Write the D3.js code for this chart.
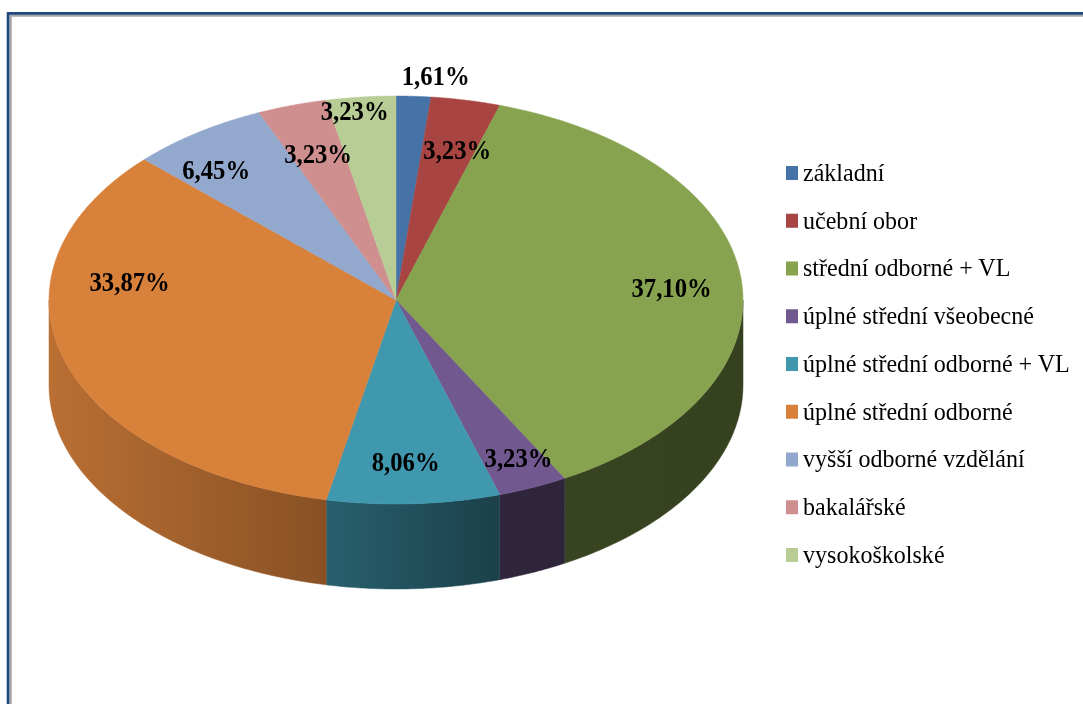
<!DOCTYPE html>
<html>
<head>
<meta charset="utf-8">
<script src="https://cdn.jsdelivr.net/npm/d3@7"></script>
<style>
  html, body { margin: 0; padding: 0; background: #fff; }
  svg { display: block; filter: blur(0.4px); }
  text { font-family: "Liberation Serif", serif; fill: #000; }
</style>
</head>
<body>
<svg id="graf"></svg>
<script>
// Nejvyšší dosažené vzdělání
const kategorie = ["základní", "učební obor", "střední odborné + VL", "úplné střední všeobecné",
    "úplné střední odborné + VL", "úplné střední odborné", "vyšší odborné vzdělání", "bakalářské", "vysokoškolské"];
const hodnoty = [1.61, 3.23, 37.10, 3.23, 8.06, 33.87, 6.45, 3.23, 3.23];
const popisky = ["1,61%", "3,23%", "37,10%", "3,23%", "8,06%", "33,87%", "6,45%", "3,23%", "3,23%"];

const barvy = ["#4572a7", "#a84543", "#87a34f", "#71588f", "#4098af", "#d8813b", "#92a8cd", "#cf8f8e", "#b8cc95"];
// posun popisku od jeho místa ve výseči (ručně posunuté popisky)
const posunPopisku = [[27, -78], [11, -7], [27, 2], [24, 23], [-3, 15], [-28, -62], [-37, -10], [-3, -6], [-16, -43]];

const width = 1083, height = 704;
const cx = 396, cy = 300, rx = 347, ry = 204, hloubka = 85;

const svg = d3.select("#graf").attr("width", width).attr("height", height);
const defs = svg.append("defs");

// rámeček
const ramecek = svg.append("g").attr("fill", "none");
ramecek.append("path").attr("d", `M10.5,${height} V15.5 H${width}`).attr("stroke", "#a6a6a6").attr("stroke-width", 2.5);
ramecek.append("path").attr("d", `M8,${height} V13.4 H${width}`).attr("stroke", "#1f497d").attr("stroke-width", 2.6);

const pie = d3.pie().value(d => d).sort(null);
const dily = pie(hodnoty);

const bod = (uhel, k = 1) => [cx + k * rx * Math.sin(uhel), cy - k * ry * Math.cos(uhel)];

// stín boční stěny podle vodorovné polohy
const stin = d3.scaleLinear().domain([cx - rx, 325, 500, cx + rx]).range([0.86, 0.63, 0.42, 0.4]);

function vyseC(d) {
    const p = d3.path();
    p.moveTo(cx, cy);
    const n = 60;
    for (let i = 0; i <= n; i++) {
        const [x, y] = bod(d.startAngle + (d.endAngle - d.startAngle) * i / n);
        p.lineTo(x, y);
    }
    p.closePath();
    return p.toString();
}

function stena(d) {
    const a0 = Math.max(d.startAngle, Math.PI / 2), a1 = Math.min(d.endAngle, 3 * Math.PI / 2);
    if (a1 <= a0) return null;
    const p = d3.path(), n = 60;
    for (let i = 0; i <= n; i++) {
        const [x, y] = bod(a0 + (a1 - a0) * i / n);
        i === 0 ? p.moveTo(x, y) : p.lineTo(x, y);
    }
    for (let i = n; i >= 0; i--) {
        const [x, y] = bod(a0 + (a1 - a0) * i / n);
        p.lineTo(x, y + hloubka);
    }
    p.closePath();
    return p.toString();
}

// přechody pro boční stěny
dily.forEach((d, i) => {
    const g = defs.append("linearGradient").attr("id", "stena" + i)
        .attr("gradientUnits", "userSpaceOnUse")
        .attr("x1", cx - rx).attr("x2", cx + rx).attr("y1", 0).attr("y2", 0);
    const c = d3.rgb(barvy[i]);
    stin.domain().forEach(x => {
        g.append("stop")
            .attr("offset", (x - (cx - rx)) / (2 * rx))
            .attr("stop-color", d3.rgb(c.r * stin(x), c.g * stin(x), c.b * stin(x)).formatHex());
    });
});

svg.append("g").selectAll("path")
    .data(dily.filter(d => stena(d)))
    .join("path")
    .attr("d", stena)
    .attr("fill", d => `url(#stena${d.index})`)
    .attr("stroke", d => `url(#stena${d.index})`)
    .attr("stroke-width", 0.5);

svg.append("g").selectAll("path")
    .data(dily)
    .join("path")
    .attr("d", vyseC)
    .attr("fill", d => barvy[d.index])
    .attr("stroke", d => barvy[d.index])
    .attr("stroke-width", 0.5);

// popisky dat
svg.append("g").selectAll("text")
    .data(dily)
    .join("text")
    .attr("transform", d => {
        const [x, y] = bod((d.startAngle + d.endAngle) / 2, 0.72);
        return `translate(${x + posunPopisku[d.index][0]},${y + posunPopisku[d.index][1]}) scale(0.915,1)`;
    })
    .attr("dy", "0.35em")
    .attr("text-anchor", "middle")
    .attr("font-size", 27)
    .attr("font-weight", "bold")
    .text(d => popisky[d.index]);

// legenda
const legendaY = d3.scalePoint().domain(kategorie).range([173, 555]);
const legenda = svg.append("g").selectAll("g")
    .data(kategorie)
    .join("g")
    .attr("transform", d => `translate(786,${legendaY(d)})`);
legenda.append("rect")
    .attr("y", -7).attr("width", 12).attr("height", 14)
    .attr("fill", (d, i) => barvy[i]);
legenda.append("text")
    .attr("transform", "translate(17,0) scale(0.925,1)")
    .attr("dy", "0.3em")
    .attr("font-size", 26)
    .text(d => d);
</script>
</body>
</html>
